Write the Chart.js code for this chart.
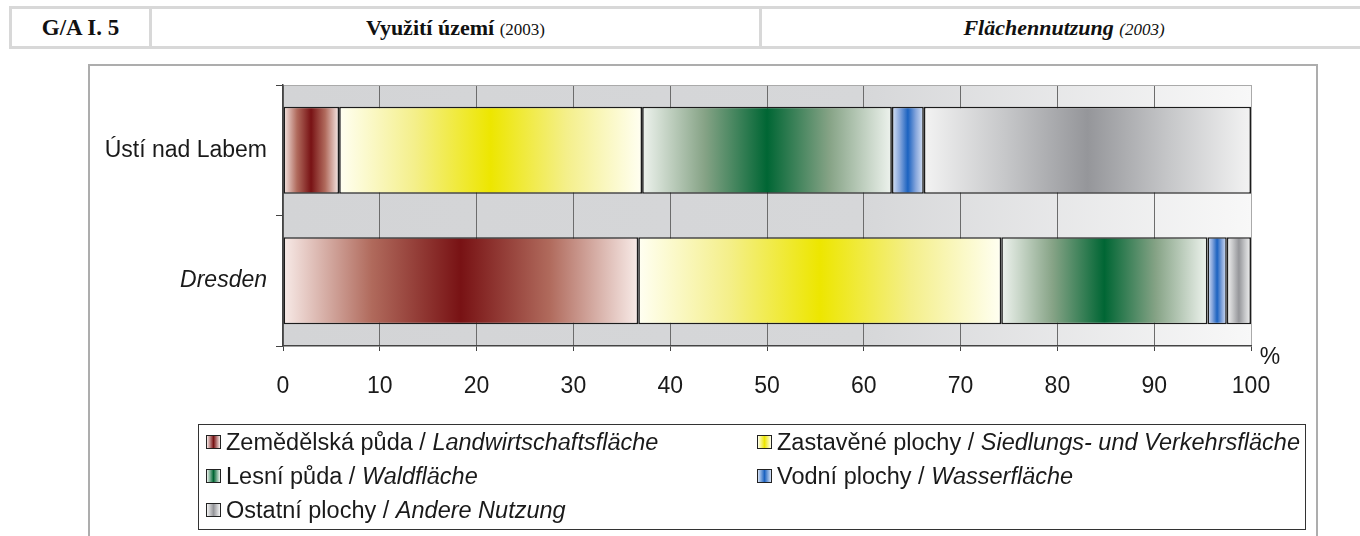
<!DOCTYPE html>
<html>
<head>
<meta charset="utf-8">
<script src="https://cdn.jsdelivr.net/npm/chart.js@4"></script>
<style>
  html, body { margin: 0; padding: 0; background: #fff; }
  body { width: 1360px; height: 536px; position: relative; overflow: hidden; }
  #header { position: absolute; left: 9px; top: 6px; width: 1360px; height: 37px;
    border-top: 3px solid #d8d8d8; border-bottom: 3px solid #d8d8d8; border-left: 3px solid #d8d8d8;
    font-family: "Liberation Serif", "Times New Roman", serif; font-size: 22px; color: #111; }
  #header div { position: absolute; top: 0; height: 37px; line-height: 37px; text-align: center; }
  #header .sep { border-left: 3px solid #d8d8d8; }
  #header small { font-size: 17px; }
  #frame { position: absolute; left: 88px; top: 64px; width: 1226px; height: 500px;
    border: 2px solid #adadad; }
  #wrap { position: absolute; left: 0; top: 0; width: 1360px; height: 536px; }
  #legend { position: absolute; left: 198px; top: 424px; width: 1106px; height: 104px;
    border: 1px solid #333; font-family: "Liberation Sans", Arial, sans-serif; font-size: 23.5px; color: #1a1a1a; }
  #legend .item { position: absolute; height: 28px; line-height: 28px; white-space: nowrap; }
  #legend .sw { position: absolute; left: 0; top: 7px; width: 13px; height: 12px; border: 1px solid #222; }
  #legend .txt { position: absolute; left: 20px; top: 0; }
</style>
</head>
<body>
<div id="header">
  <div style="left:0;width:137px;font-weight:bold;font-size:23px;">G/A I. 5</div>
  <div class="sep" style="left:137px;width:607px;"><b>Využití území</b> <small>(2003)</small></div>
  <div class="sep" style="left:747px;width:604px;"><b><i>Flächennutzung</i></b> <small><i>(2003)</i></small></div>
</div>
<div id="frame"></div>
<div id="wrap"><canvas id="chart" width="1360" height="536"></canvas></div>
<div id="legend"></div>
<script>
  // Kategorie (města)
  const categories = ['Ústí nad Labem', 'Dresden'];

  // Podíly využití území v %
  const agricultural = [5.8, 36.7];
  const builtUp = [31.3, 37.5];
  const forest = [25.8, 21.3];
  const water = [3.3, 2.0];
  const other = [33.8, 2.5];

  // Popisky řad (česky / německy)
  const namesCz = ['Zemědělská půda', 'Zastavěné plochy', 'Lesní půda', 'Vodní plochy', 'Ostatní plochy'];
  const namesDe = ['Landwirtschaftsfläche', 'Siedlungs- und Verkehrsfläche', 'Waldfläche', 'Wasserfläche', 'Andere Nutzung'];

  // Osa x
  const xMin = 0;
  const xMax = 100;
  const xStep = 10;
  const unitLabel = '%';

  // Barvy přechodu: [okraj, mezitón, střed]
  const gradientStops = [
    ['#f8ebe8', '#b06a5c', '#781214'],
    ['#fffff2', '#f4ef8a', '#ede600'],
    ['#eef3ee', '#86a386', '#006634'],
    ['#d8e3f6', '#86a6dc', '#1b62c0'],
    ['#f3f3f3', '#c6c7c9', '#95969a']
  ];

  const FONT = '"Liberation Sans", Arial, sans-serif';

  function segmentGradient(stops) {
    return function(ctx) {
      const chart = ctx.chart;
      const xs = chart.scales && chart.scales.x;
      if (!xs || !chart.chartArea || ctx.type !== 'data') return stops[2];
      const di = ctx.datasetIndex;
      const i = ctx.dataIndex;
      let start = 0;
      for (let k = 0; k < di; k++) start += chart.data.datasets[k].data[i];
      const end = start + chart.data.datasets[di].data[i];
      const x0 = xs.getPixelForValue(start);
      const x1 = xs.getPixelForValue(end);
      if (!isFinite(x0) || !isFinite(x1) || x1 - x0 < 0.5) return stops[2];
      const g = chart.ctx.createLinearGradient(x0, 0, x1, 0);
      g.addColorStop(0, stops[0]);
      g.addColorStop(0.25, stops[1]);
      g.addColorStop(0.5, stops[2]);
      g.addColorStop(0.75, stops[1]);
      g.addColorStop(1, stops[0]);
      return g;
    };
  }

  // Pozadí plochy grafu (šedý přechod)
  const plotBackground = {
    id: 'plotBackground',
    beforeDraw(chart) {
      const { ctx, chartArea: a } = chart;
      ctx.save();
      const g = ctx.createLinearGradient(a.left, 0, a.right, 0);
      g.addColorStop(0, '#d3d4d6');
      g.addColorStop(0.6, '#d6d7d9');
      g.addColorStop(1, '#f8f8f8');
      ctx.fillStyle = g;
      ctx.fillRect(a.left, a.top, a.right - a.left, a.bottom - a.top);
      ctx.restore();
    }
  };

  // Jednotka "%" na konci osy x
  const unitPlugin = {
    id: 'unitPlugin',
    afterDraw(chart) {
      const { ctx, chartArea: a } = chart;
      ctx.save();
      ctx.font = '23px ' + FONT;
      ctx.fillStyle = '#1a1a1a';
      ctx.textAlign = 'center';
      ctx.textBaseline = 'middle';
      ctx.fillText(unitLabel, a.right + 19, a.bottom + 12);
      ctx.restore();
    }
  };

  const seriesValues = [agricultural, builtUp, forest, water, other];
  const datasets = seriesValues.map((vals, k) => ({
    label: namesCz[k] + ' / ' + namesDe[k],
    data: vals,
    backgroundColor: segmentGradient(gradientStops[k]),
    borderColor: '#1c1c1c',
    borderWidth: 1.6,
    borderSkipped: false,
    barPercentage: 0.667,
    categoryPercentage: 1,
    clip: false
  }));

  new Chart(document.getElementById('chart'), {
    type: 'bar',
    data: { labels: categories, datasets: datasets },
    options: {
      indexAxis: 'y',
      responsive: false,
      animation: false,
      layout: { padding: { left: 90, right: 109, top: 85, bottom: 130 } },
      plugins: {
        legend: { display: false },
        tooltip: { enabled: false }
      },
      scales: {
        x: {
          stacked: true,
          min: xMin,
          max: xMax,
          afterFit: scale => { scale.height = 60; },
          ticks: {
            stepSize: xStep,
            color: '#1a1a1a',
            padding: 22,
            font: { family: FONT, size: 23 }
          },
          grid: {
            color: ctx => (ctx.index === 10 ? '#aaaaaa' : '#6c6c6c'),
            tickColor: '#444',
            tickLength: 5,
            lineWidth: 1
          },
          border: { color: '#444', width: 1.5 }
        },
        y: {
          stacked: true,
          afterFit: scale => { scale.width = 193; },
          ticks: {
            color: '#1a1a1a',
            padding: 9,
            font: ctx => ({ family: FONT, size: 23, style: ctx.index === 1 ? 'italic' : 'normal' })
          },
          grid: {
            color: ctx => (ctx.index === 0 ? '#aaaaaa' : 'rgba(0,0,0,0)'),
            tickColor: '#444',
            tickLength: 7
          },
          border: { color: '#444', width: 1.5 }
        }
      }
    },
    plugins: [plotBackground, unitPlugin]
  });

  // Legenda (HTML kvůli kombinaci normálního a kurzívního písma)
  const legend = document.getElementById('legend');
  const rowTop = [3, 37, 71];
  const colLeft = [7, 558];
  namesCz.forEach((cz, k) => {
    const item = document.createElement('div');
    item.className = 'item';
    item.style.left = colLeft[k % 2] + 'px';
    item.style.top = rowTop[Math.floor(k / 2)] + 'px';
    const sw = document.createElement('span');
    sw.className = 'sw';
    const s = gradientStops[k];
    sw.style.background = 'linear-gradient(to right, ' + s[0] + ', ' + s[2] + ', ' + s[0] + ')';
    const txt = document.createElement('span');
    txt.className = 'txt';
    txt.innerHTML = cz + ' / <i>' + namesDe[k] + '</i>';
    item.appendChild(sw);
    item.appendChild(txt);
    legend.appendChild(item);
  });
</script>
</body>
</html>
